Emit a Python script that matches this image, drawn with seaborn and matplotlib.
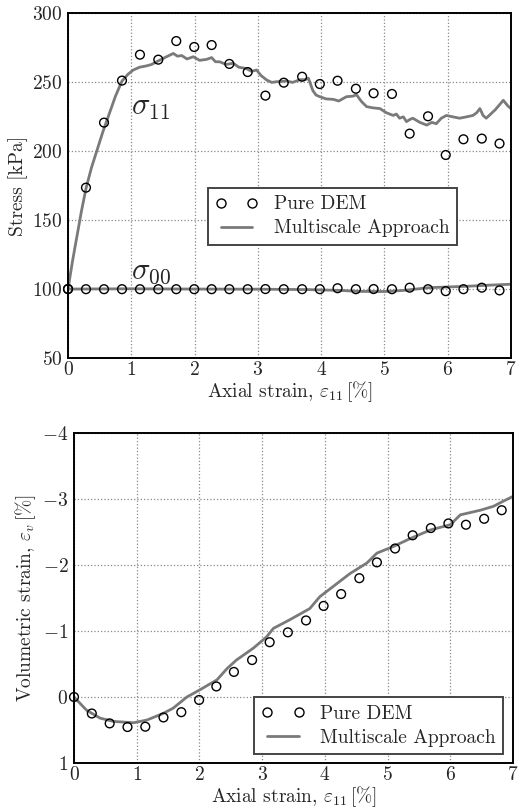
import numpy as np
import pandas as pd
import seaborn as sns
from matplotlib import pyplot as plt
from matplotlib.lines import Line2D

# --- data ---
dem_strain = [0.0, 0.284, 0.569, 0.853, 1.137, 1.427, 1.711, 1.995, 2.27, 2.55,
              2.84, 3.12, 3.41, 3.70, 3.98, 4.26, 4.55, 4.83, 5.12, 5.40,
              5.69, 5.97, 6.25, 6.54, 6.82]
dem_s11 = [100, 173.6, 220.8, 251.3, 270.1, 266.5, 280.0, 275.7, 277.1, 263.4,
           257.5, 240.4, 249.8, 254.1, 248.8, 251.2, 245.4, 242.1, 241.6, 212.8,
           225.4, 197.3, 208.7, 209.2, 205.6]
dem_s00 = [100, 99.9, 99.9, 99.9, 99.9, 99.9, 99.9, 99.9, 99.9, 99.9,
           99.9, 100.0, 99.9, 99.9, 99.9, 100.6, 99.9, 100.0, 99.9, 101.0,
           99.9, 98.5, 99.9, 101.0, 99.0]
dem_vol = [0.0, 0.25, 0.40, 0.455, 0.45, 0.31, 0.23, 0.045, -0.16, -0.38,
           -0.56, -0.83, -0.98, -1.16, -1.38, -1.56, -1.80, -2.04, -2.25, -2.45,
           -2.56, -2.63, -2.61, -2.70, -2.83]

ms_strain_11 = [0.0, 0.07, 0.14, 0.21, 0.284, 0.37, 0.453, 0.55, 0.65, 0.75, 0.853,
                0.95, 1.032, 1.13, 1.243, 1.32, 1.401, 1.53, 1.664, 1.73, 1.796,
                1.88, 1.98, 2.08, 2.19, 2.27, 2.33, 2.40, 2.50, 2.61, 2.70,
                2.82, 2.90, 2.98, 3.05, 3.14, 3.22, 3.30, 3.45, 3.55, 3.67, 3.75,
                3.80, 3.87, 3.92, 3.98, 4.08, 4.19, 4.28, 4.40, 4.50, 4.56, 4.64,
                4.72, 4.82, 4.93, 5.03, 5.14, 5.19, 5.24, 5.30, 5.35, 5.40, 5.45,
                5.56, 5.67, 5.75, 5.82, 5.90, 5.98, 6.08, 6.19, 6.30, 6.40,
                6.46, 6.51, 6.56, 6.61, 6.75, 6.88, 6.95, 7.0]
ms_s11 = [100, 120, 138, 156, 173, 188, 200, 214, 227, 240, 251,
          256, 259, 261, 262, 263, 265, 268, 271, 269, 269.5,
          267, 268.6, 266, 266.7, 268, 265, 264.9, 263, 263.9, 261,
          260, 258, 259, 255, 251.7, 250, 250.5, 251, 250, 252, 252,
          253, 244, 240.8, 239.6, 238, 237.7, 236.5, 239.6, 240, 241, 236,
          232.4, 231.5, 231, 228, 226, 227, 224, 225, 221.5, 223, 224,
          221, 219, 221, 220, 224, 226, 225, 224, 225, 226,
          228, 231, 226, 224, 230, 237, 233, 231]

ms_strain_00 = [0.0, 1.0, 2.0, 3.0, 3.8, 4.3, 4.6, 5.0, 5.3, 5.7, 6.0, 6.3, 6.6, 7.0]
ms_s00 = [100, 100.2, 100, 99.9, 99.6, 99.0, 98.3, 98.2, 99.0, 101.0, 101.5, 102.0, 102.7, 103.5]

ms_strain_v = [0.0, 0.20, 0.415, 0.63, 0.95, 1.16, 1.42, 1.58, 1.80, 2.01, 2.28,
               2.44, 2.59, 2.86, 3.07, 3.18, 3.44, 3.76, 3.92, 4.14, 4.40, 4.67,
               4.83, 5.09, 5.36, 5.68, 6.0, 6.16, 6.48, 6.69, 6.79, 7.0]
ms_vol = [0.0, 0.20, 0.32, 0.37, 0.39, 0.35, 0.25, 0.17, 0.0, -0.11, -0.26,
          -0.43, -0.56, -0.74, -0.91, -1.04, -1.17, -1.34, -1.52, -1.68, -1.87, -2.03,
          -2.18, -2.28, -2.40, -2.53, -2.61, -2.76, -2.83, -2.89, -2.94, -3.04]

LINE_C = '#7a7a7a'

sns.set_style('white')
plt.rcParams['font.family'] = ['cmr10', 'DejaVu Serif']
plt.rcParams['mathtext.fontset'] = 'cm'
plt.rcParams['axes.formatter.use_mathtext'] = True
plt.rcParams['axes.unicode_minus'] = True

fig = plt.figure(figsize=(5.24, 8.08), dpi=100)
ax1 = fig.add_axes([0.1298, 0.557, 0.8452, 0.4263])
ax2 = fig.add_axes([0.1412, 0.0557, 0.8378, 0.4084])


def style_axes(ax):
    ax.grid(True, linestyle=':', color='#888888', linewidth=0.9)
    for sp in ax.spines.values():
        sp.set_color('black')
        sp.set_linewidth(1.4)
    ax.tick_params(length=0, labelsize=14)
    ax.tick_params(axis='x', pad=2)
    ax.tick_params(axis='y', pad=4)
    ax.set_xlim(0, 7)
    ax.set_xticks(range(8))


def legend(ax, **kw):
    handles = [Line2D([], [], ls='none', marker='o', mfc='none', mec='black',
                      ms=6.5, mew=1.0),
               Line2D([], [], color=LINE_C, lw=2)]
    lg = ax.legend(handles, ['Pure DEM', 'Multiscale Approach'], numpoints=2,
                   fancybox=False, framealpha=1, fontsize=14, handlelength=2.2,
                   borderpad=0.4, labelspacing=0.3, **kw)
    lg.get_frame().set_edgecolor('#444444')
    lg.get_frame().set_linewidth(1.4)


# --- top: stresses ---
sns.lineplot(x=ms_strain_11, y=ms_s11, ax=ax1, color=LINE_C, lw=2, sort=False, estimator=None)
sns.lineplot(x=ms_strain_00, y=ms_s00, ax=ax1, color=LINE_C, lw=2, sort=False, estimator=None)
for ys in (dem_s11, dem_s00):
    sns.scatterplot(x=dem_strain, y=ys, ax=ax1, marker='o', s=40, facecolor='none',
                    edgecolor='black', linewidth=1.0, zorder=3, clip_on=False)
ax1.text(1.0, 231, r'$\sigma_{11}$', fontsize=22, ha='left', va='center')
ax1.text(1.0, 112, r'$\sigma_{00}$', fontsize=22, ha='left', va='center')
ax1.set_ylim(50, 300)
ax1.set_yticks(range(50, 301, 50))
style_axes(ax1)
ax1.set_xlabel(r'Axial strain, $\varepsilon_{11}\,[\%]$', fontsize=14, labelpad=0)
ax1.set_ylabel('Stress [kPa]', fontsize=14, labelpad=3)
legend(ax1, loc='upper left', bbox_to_anchor=(0.315, 0.494), borderaxespad=0)

# --- bottom: volumetric strain ---
sns.lineplot(x=ms_strain_v, y=ms_vol, ax=ax2, color=LINE_C, lw=2, sort=False, estimator=None)
sns.scatterplot(x=dem_strain, y=dem_vol, ax=ax2, marker='o', s=40, facecolor='none',
                edgecolor='black', linewidth=1.0, zorder=3, clip_on=False)
ax2.set_ylim(1, -4)
ax2.set_yticks([1, 0, -1, -2, -3, -4])
style_axes(ax2)
ax2.set_xlabel(r'Axial strain, $\varepsilon_{11}\,[\%]$', fontsize=14, labelpad=0)
ax2.set_ylabel(r'Volumetric strain, $\varepsilon_v\,[\%]$', fontsize=14, labelpad=3)
legend(ax2, loc='lower right', bbox_to_anchor=(0.978, 0.026), borderaxespad=0)

fig.savefig('out.png', dpi=100)
